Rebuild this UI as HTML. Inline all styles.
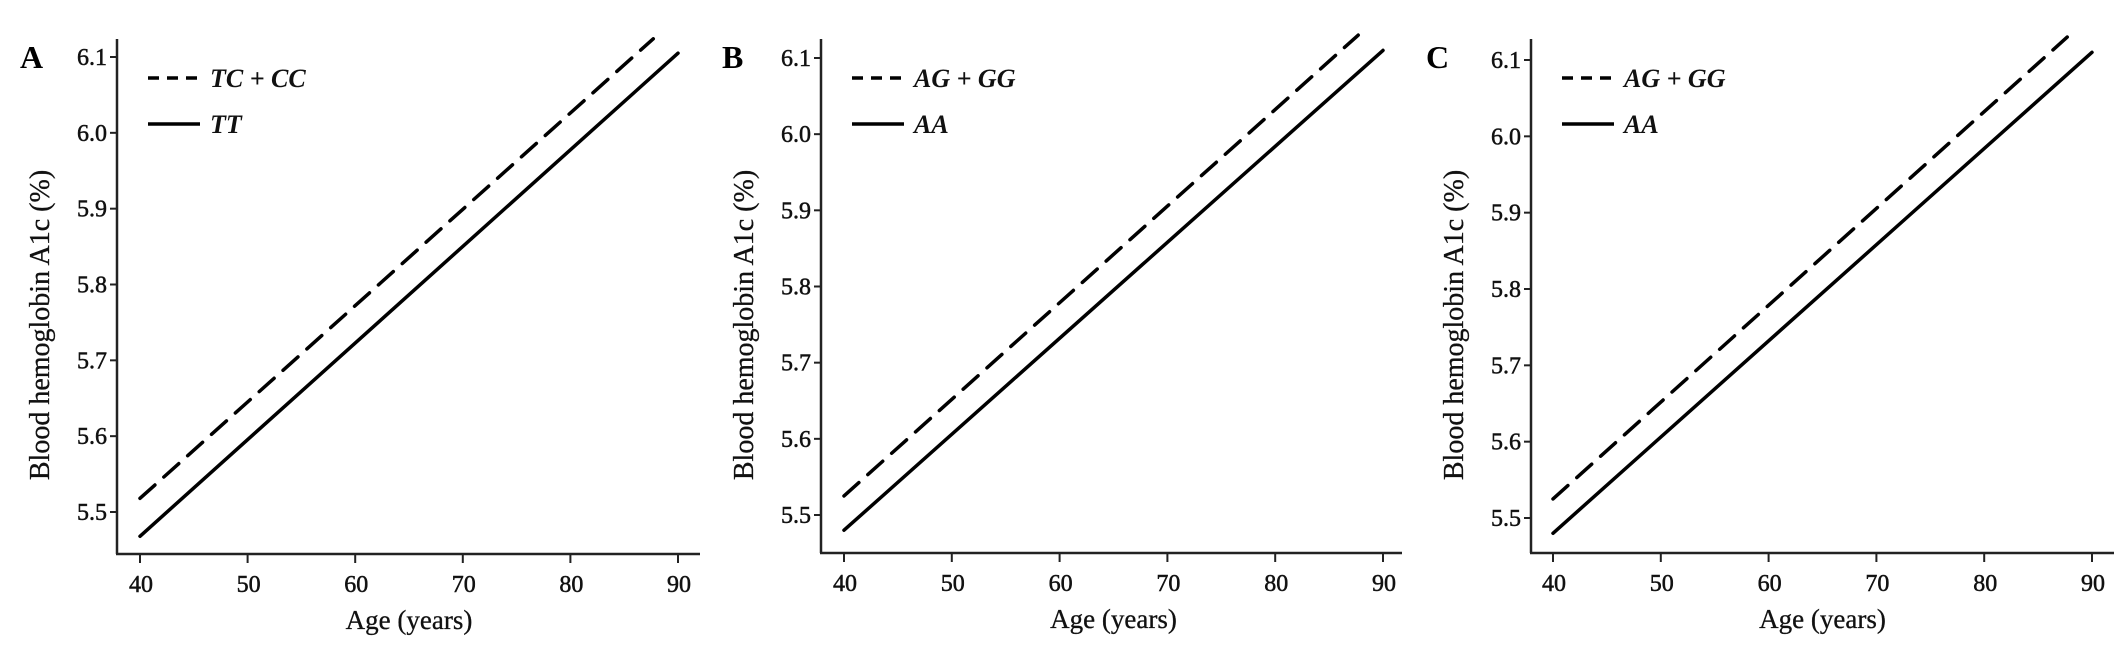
<!DOCTYPE html>
<html><head><meta charset="utf-8"><style>
html,body{margin:0;padding:0;background:#fff;}
svg{display:block;font-family:"Liberation Serif",serif;}
</style></head><body>
<svg id="fig" width="2126" height="646" viewBox="0 0 2126 646" xmlns="http://www.w3.org/2000/svg"></svg>
<script>
const ages = [40, 50, 60, 70, 80, 90];
const yTicks = [5.5, 5.6, 5.7, 5.8, 5.9, 6.0, 6.1];
const yTickLabels = ["5.5", "5.6", "5.7", "5.8", "5.9", "6.0", "6.1"];
const panelLetters = ["A", "B", "C"];
const dashedLabels = ["TC + CC", "AG + GG", "AG + GG"];
const solidLabels = ["TT", "AA", "AA"];
const dashedX = [40, 87.7];
const solidX = [40, 90];
const dashedA = [5.518, 6.124];
const solidA = [5.468, 6.105];
const dashedB = [5.525, 6.13];
const solidB = [5.48, 6.11];
const dashedC = [5.525, 6.13];
const solidC = [5.48, 6.11];
const dashedSeries = [dashedA, dashedB, dashedC];
const solidSeries = [solidA, solidB, solidC];

const layouts = [
  {ax:117, x40:140, x90:678, y55:512, y61:57, xAxisY:554, xEnd:700, letterX:20},
  {ax:821, x40:844, x90:1383, y55:515, y61:58, xAxisY:553, xEnd:1402, letterX:722},
  {ax:1531, x40:1553, x90:2092, y55:518, y61:60, xAxisY:553, xEnd:2114, letterX:1426}
];
const NS = "http://www.w3.org/2000/svg";
const svg = document.getElementById("fig");
function mk(tag, attrs, parent){
  const e = document.createElementNS(NS, tag);
  for (const k in attrs) e.setAttribute(k, attrs[k]);
  (parent||svg).appendChild(e);
  return e;
}
layouts.forEach((L, p) => {
  const g = mk("g", {});
  
  
  const xs = v => L.x40 + (v - 40) * (L.x90 - L.x40) / 50;
  const ys = v => L.y55 + (v - 5.5) * (L.y61 - L.y55) / 0.6;
  const letter = mk("text", {x:L.letterX, y:68, "font-size":32, "font-weight":"bold", fill:"#000"}, g);
  letter.textContent = panelLetters[p];
  
  
  const yAxis = mk("line", {x1:L.ax, y1:39, x2:L.ax, y2:L.xAxisY, stroke:"#222", "stroke-width":2.5}, g);
  
  
  const xAxis = mk("line", {x1:L.ax-1, y1:L.xAxisY, x2:L.xEnd, y2:L.xAxisY, stroke:"#222", "stroke-width":2.5}, g);
  
  
  yTicks.forEach((t, i) => {
    const y = ys(t);
    mk("line", {x1:L.ax-7, y1:y, x2:L.ax, y2:y, stroke:"#222", "stroke-width":2}, g);
    const tl = mk("text", {x:L.ax-10, y:y+8, "font-size":24, "text-anchor":"end", fill:"#111", stroke:"#111", "stroke-width":0.5}, g);
    tl.textContent = yTickLabels[i];
    
    
  });
  ages.forEach(a => {
    const x = xs(a);
    mk("line", {x1:x, y1:L.xAxisY, x2:x, y2:L.xAxisY+9, stroke:"#222", "stroke-width":2}, g);
    const tl = mk("text", {x:x+1, y:L.xAxisY+38, "font-size":24, "text-anchor":"middle", fill:"#111", stroke:"#111", "stroke-width":0.5}, g);
    tl.textContent = String(a);
    
    
  });
  const xt = mk("text", {x:(L.x40+L.x90)/2, y:L.xAxisY+75, "font-size":27, "text-anchor":"middle", fill:"#111", stroke:"#111", "stroke-width":0.3}, g);
  xt.textContent = "Age (years)";
  
  
  const cy = 325;
  const yt = mk("text", {x:0, y:0, "font-size":28, "text-anchor":"middle", fill:"#111", stroke:"#111", "stroke-width":0.3, transform:`translate(${L.ax-68},${cy}) rotate(-90)`}, g);
  yt.textContent = "Blood hemoglobin A1c (%)";
  
  
  const d = dashedSeries[p], s = solidSeries[p];
  const dl = mk("line", {x1:xs(dashedX[0]), y1:ys(d[0]), x2:xs(dashedX[1]), y2:ys(d[1]), stroke:"#000", "stroke-width":3.5, "stroke-dasharray":"20,12", "stroke-linecap":"round"}, g);
  
  
  const sl = mk("line", {x1:xs(solidX[0]), y1:ys(s[0]), x2:xs(solidX[1]), y2:ys(s[1]), stroke:"#000", "stroke-width":3.5, "stroke-linecap":"round"}, g);
  
  
  const lx = L.ax + 31;
  const ld = mk("line", {x1:lx, y1:78, x2:lx+52, y2:78, stroke:"#000", "stroke-width":3.5, "stroke-dasharray":"11,8"}, g);
  
  
  const ldt = mk("text", {x:lx+62, y:87, "font-size":26, "font-style":"italic", "font-weight":"bold", fill:"#111"}, g);
  ldt.textContent = dashedLabels[p];
  
  
  const ls = mk("line", {x1:lx, y1:124, x2:lx+52, y2:124, stroke:"#000", "stroke-width":3.5}, g);
  
  
  const lst = mk("text", {x:lx+62, y:133, "font-size":26, "font-style":"italic", "font-weight":"bold", fill:"#111"}, g);
  lst.textContent = solidLabels[p];
  
  
});
</script>
</body></html>
